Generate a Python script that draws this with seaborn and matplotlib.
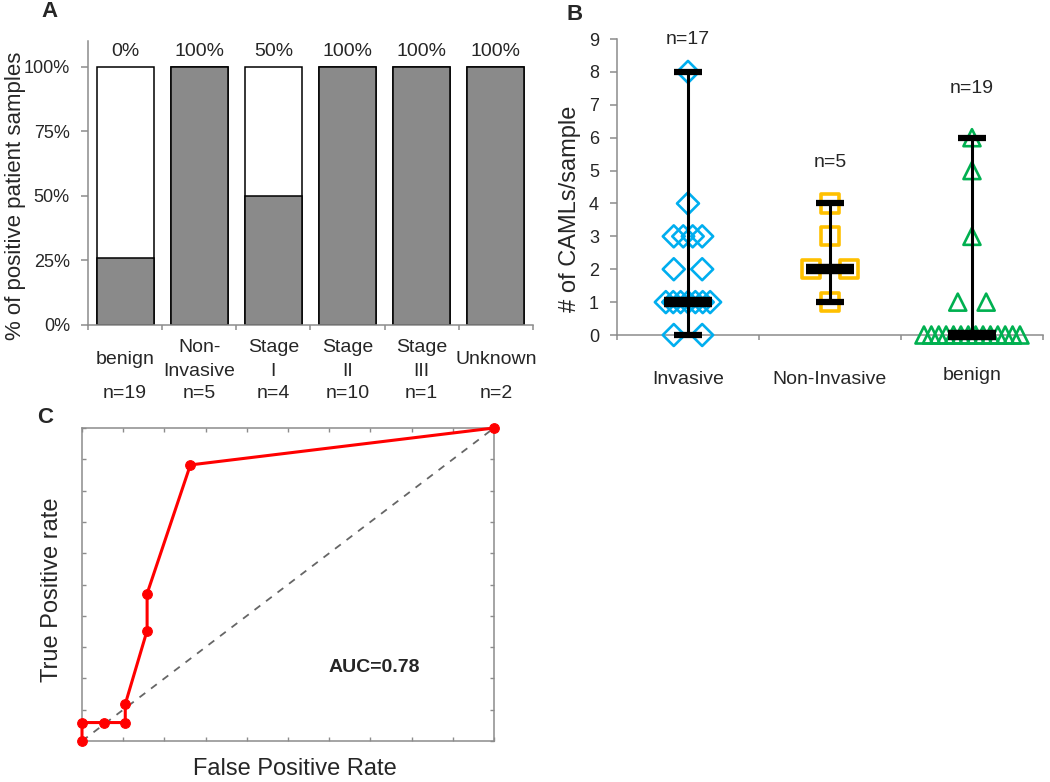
import matplotlib
matplotlib.use('Agg')
import matplotlib.pyplot as plt
import numpy as np
import pandas as pd
import seaborn as sns

sns.set_theme(style='ticks')
plt.rcParams['font.family'] = ['Liberation Sans', 'DejaVu Sans']

# Painel A: % de amostras positivas por grupo
grupos_a = ['benign', 'Non-\nInvasive', 'Stage\nI', 'Stage\nII', 'Stage\nIII', 'Unknown']
n_a = [19, 5, 4, 10, 1, 2]
total_pct = [100, 100, 100, 100, 100, 100]
positivo_pct = [26, 100, 50, 100, 100, 100]
rotulos_topo = ['0%', '100%', '50%', '100%', '100%', '100%']

# Painel B: CAMLs por amostra
grupos_b = ['Invasive', 'Non-Invasive', 'benign']
n_b = [17, 5, 19]
invasive = [8, 4, 3, 3, 3, 3, 2, 2, 1, 1, 1, 1, 1, 1, 1, 0, 0]
non_invasive = [4, 3, 2, 2, 1]
benign = [6, 5, 3, 1, 1, 0, 0, 0, 0, 0, 0, 0, 0, 0, 0, 0, 0, 0, 0]
n_label_y = [9.0, 5.25, 7.5]

# Painel C: curva ROC
fpr = [0.0, 0.0, 0.053, 0.105, 0.105, 0.158, 0.158, 0.263, 1.0]
tpr = [0.0, 0.059, 0.059, 0.059, 0.118, 0.353, 0.471, 0.882, 1.0]
auc_txt = 'AUC=0.78'

GRAY = '#8c8c8c'


def spread(values, half_min=0.1, step=0.052):
    # espalhar pontos repetidos na horizontal
    values = np.asarray(values)
    offs = np.zeros(len(values))
    for v in np.unique(values):
        idx = np.where(values == v)[0]
        k = len(idx)
        if k > 1:
            h = max(half_min, (k - 1) / 2 * step)
            offs[idx] = np.linspace(-h, h, k)
    return offs


def style_spines(ax, sides=('left', 'bottom')):
    for s in ['left', 'right', 'top', 'bottom']:
        ax.spines[s].set_visible(s in sides)
        ax.spines[s].set_color(GRAY)
        ax.spines[s].set_linewidth(1.1)


fig = plt.figure(figsize=(10.5, 7.82), dpi=100)

# ---------------- Painel A ----------------
ax_a = fig.add_axes([0.0838, 0.5844, 0.4238, 0.3632])
sns.barplot(x=grupos_a, y=total_pct, color='white', saturation=1, edgecolor='black',
            linewidth=1.1, width=0.77, ax=ax_a)
sns.barplot(x=grupos_a, y=positivo_pct, color='#8a8a8a', saturation=1, edgecolor='black',
            linewidth=1.1, width=0.77, ax=ax_a)
ax_a.set_xlim(-0.5, 5.5)
ax_a.set_ylim(0, 110)
ax_a.set_yticks([0, 25, 50, 75, 100])
ax_a.set_yticklabels(['0%', '25%', '50%', '75%', '100%'])
ax_a.set_xticks(np.arange(-0.5, 6, 1))
ax_a.set_xticklabels([])
style_spines(ax_a)
ax_a.tick_params(axis='y', length=5, width=1.1, color=GRAY, labelsize=13, pad=8)
ax_a.tick_params(axis='x', length=3.5, width=1.1, color=GRAY)
ax_a.set_ylabel('% of positive patient samples', fontsize=16)
ax_a.yaxis.set_label_coords(-0.14, 0.454)
for i, (nome, n, lab) in enumerate(zip(grupos_a, n_a, rotulos_topo)):
    ax_a.text(i, 106, lab, ha='center', va='center', fontsize=14)
    linhas = nome.split('\n')
    ys = [-13.5] if len(linhas) == 1 else [-8.9, -18.1]
    for linha, y in zip(linhas, ys):
        ax_a.text(i, y, linha, ha='center', va='center', fontsize=14, clip_on=False)
    ax_a.text(i, -26.5, f'n={n}', ha='center', va='center', fontsize=14, clip_on=False)

# ---------------- Painel B ----------------
ax_b = fig.add_axes([0.5876, 0.5716, 0.4057, 0.3785])
estilos = [('D', '#00AEEF', 125, 1.9, 0.1),
           ('s', '#FFC000', 170, 2.6, 0.135),
           ('^', '#00B050', 150, 1.9, 0.1)]
dados_b = [invasive, non_invasive, benign]
for i, (vals, (mk, cor, s, lw, hmin)) in enumerate(zip(dados_b, estilos)):
    df_b = pd.DataFrame({'value': vals})
    df_b['x'] = i + spread(vals, half_min=hmin)
    sns.scatterplot(data=df_b, x='x', y='value', marker=mk, s=s, facecolor='none',
                    edgecolor=cor, linewidth=lw, clip_on=False, zorder=3, ax=ax_b)
    med, lo, hi = np.median(vals), np.min(vals), np.max(vals)
    ax_b.vlines(i, lo, hi, color='black', linewidth=2.2, zorder=4, clip_on=False)
    ax_b.hlines([lo, hi], i - 0.1, i + 0.1, color='black', linewidth=4.5, zorder=4, clip_on=False)
    ax_b.hlines(med, i - 0.17, i + 0.17, color='black', linewidth=7.5, zorder=5, clip_on=False)
    ax_b.text(i, n_label_y[i], f'n={n_b[i]}', ha='center', va='center', fontsize=14)
    ax_b.text(i, -1.22 if grupos_b[i] == 'benign' else -1.35, grupos_b[i],
              ha='center', va='center', fontsize=14, clip_on=False)
ax_b.set_xlim(-0.5, 2.5)
ax_b.set_ylim(0, 9)
ax_b.set_yticks(range(0, 10))
ax_b.set_xticks([-0.5, 0.5, 1.5, 2.5])
ax_b.set_xticklabels([])
ax_b.set_xlabel('')
style_spines(ax_b)
ax_b.tick_params(axis='y', length=5, width=1.1, color=GRAY, labelsize=13, pad=8)
ax_b.tick_params(axis='x', length=3.5, width=1.1, color=GRAY)
ax_b.set_ylabel('# of CAMLs/sample', fontsize=17)
ax_b.yaxis.set_label_coords(-0.085, 0.426)

# ---------------- Painel C ----------------
ax_c = fig.add_axes([0.0781, 0.0524, 0.3924, 0.4003])
ax_c.plot([0, 1], [0, 1], linestyle=(0, (4, 4)), color='#666666', linewidth=1.3, zorder=2)
sns.lineplot(x=fpr, y=tpr, sort=False, estimator=None, color='red', linewidth=2.2,
             marker='o', markersize=7, markeredgecolor='red', clip_on=False, zorder=3, ax=ax_c)
ax_c.set_xlim(0, 1)
ax_c.set_ylim(0, 1)
ax_c.set_xticks(np.linspace(0, 1, 11))
ax_c.set_yticks(np.linspace(0, 1, 11))
ax_c.set_xticklabels([])
ax_c.set_yticklabels([])
style_spines(ax_c, sides=('left', 'right', 'top', 'bottom'))
ax_c.tick_params(direction='in', length=3, width=1, color=GRAY,
                 top=True, right=True, bottom=True, left=True)
ax_c.set_xlabel('False Positive Rate', fontsize=17)
ax_c.set_ylabel('True Positive rate', fontsize=17)
ax_c.xaxis.set_label_coords(0.517, -0.055)
ax_c.yaxis.set_label_coords(-0.046, 0.482)
ax_c.text(0.71, 0.236, auc_txt, ha='center', va='center', fontsize=14, fontweight='bold')

# Letras dos painéis
fig.text(0.0476, 0.9847, 'A', ha='center', va='center', fontsize=16, fontweight='bold')
fig.text(0.5476, 0.982, 'B', ha='center', va='center', fontsize=16, fontweight='bold')
fig.text(0.0429, 0.4655, 'C', ha='center', va='center', fontsize=16, fontweight='bold')

fig.savefig('out.png', dpi=100)
